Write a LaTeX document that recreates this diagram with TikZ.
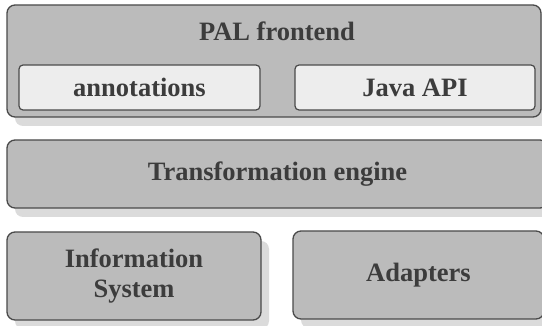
\documentclass[tikz,border=0pt]{standalone}
\usepackage{fontspec}
\setmainfont{Liberation Serif}
\usetikzlibrary{shadows}

\definecolor{boxgray}{HTML}{BBBBBB}
\definecolor{innergray}{HTML}{EDEDED}
\definecolor{edgegray}{HTML}{4A4A4A}
\definecolor{textgray}{HTML}{3C3C3C}

\begin{document}
\begin{tikzpicture}[x=1pt, y=-1pt,
    layer/.style={draw=edgegray, line width=1.3pt, fill=boxgray, rounded corners=8pt,
        drop shadow={shadow xshift=8pt, shadow yshift=-9pt, fill=black!14, opacity=1},
        text=textgray, font=\fontsize{26.5}{30}\selectfont\bfseries, align=center, inner sep=0pt},
    part/.style={draw=edgegray, line width=1.2pt, fill=innergray, rounded corners=4pt,
        text=textgray, font=\fontsize{26.5}{30}\selectfont\bfseries, align=center, inner sep=0pt},
    label/.style={text=textgray, font=\fontsize{26.5}{30}\selectfont\bfseries, inner sep=0pt}]
        \clip (0, 0) rectangle (542, 326);
        \path (274, 61)    node[layer, minimum width=534pt, minimum height=112pt] (pal) {};
        \path (277, 31)    node[label]                                            (palname) {PAL frontend};
        \path (139.5, 87.5) node[part, minimum width=241pt, minimum height=45pt]  (annot) {annotations};
        \path (415, 87.5)  node[part, minimum width=240pt, minimum height=45pt]   (japi) {Java API};
        \path (277.5, 174) node[layer, minimum width=541pt, minimum height=68pt]  (engine) {Transformation engine};
        \path (134, 276)   node[layer, minimum width=254pt, minimum height=88pt]  (infosys) {Information\\System};
        \path (418.5, 275) node[layer, minimum width=251pt, minimum height=88pt]  (adapters) {Adapters};
    \end{tikzpicture}
\end{document}
